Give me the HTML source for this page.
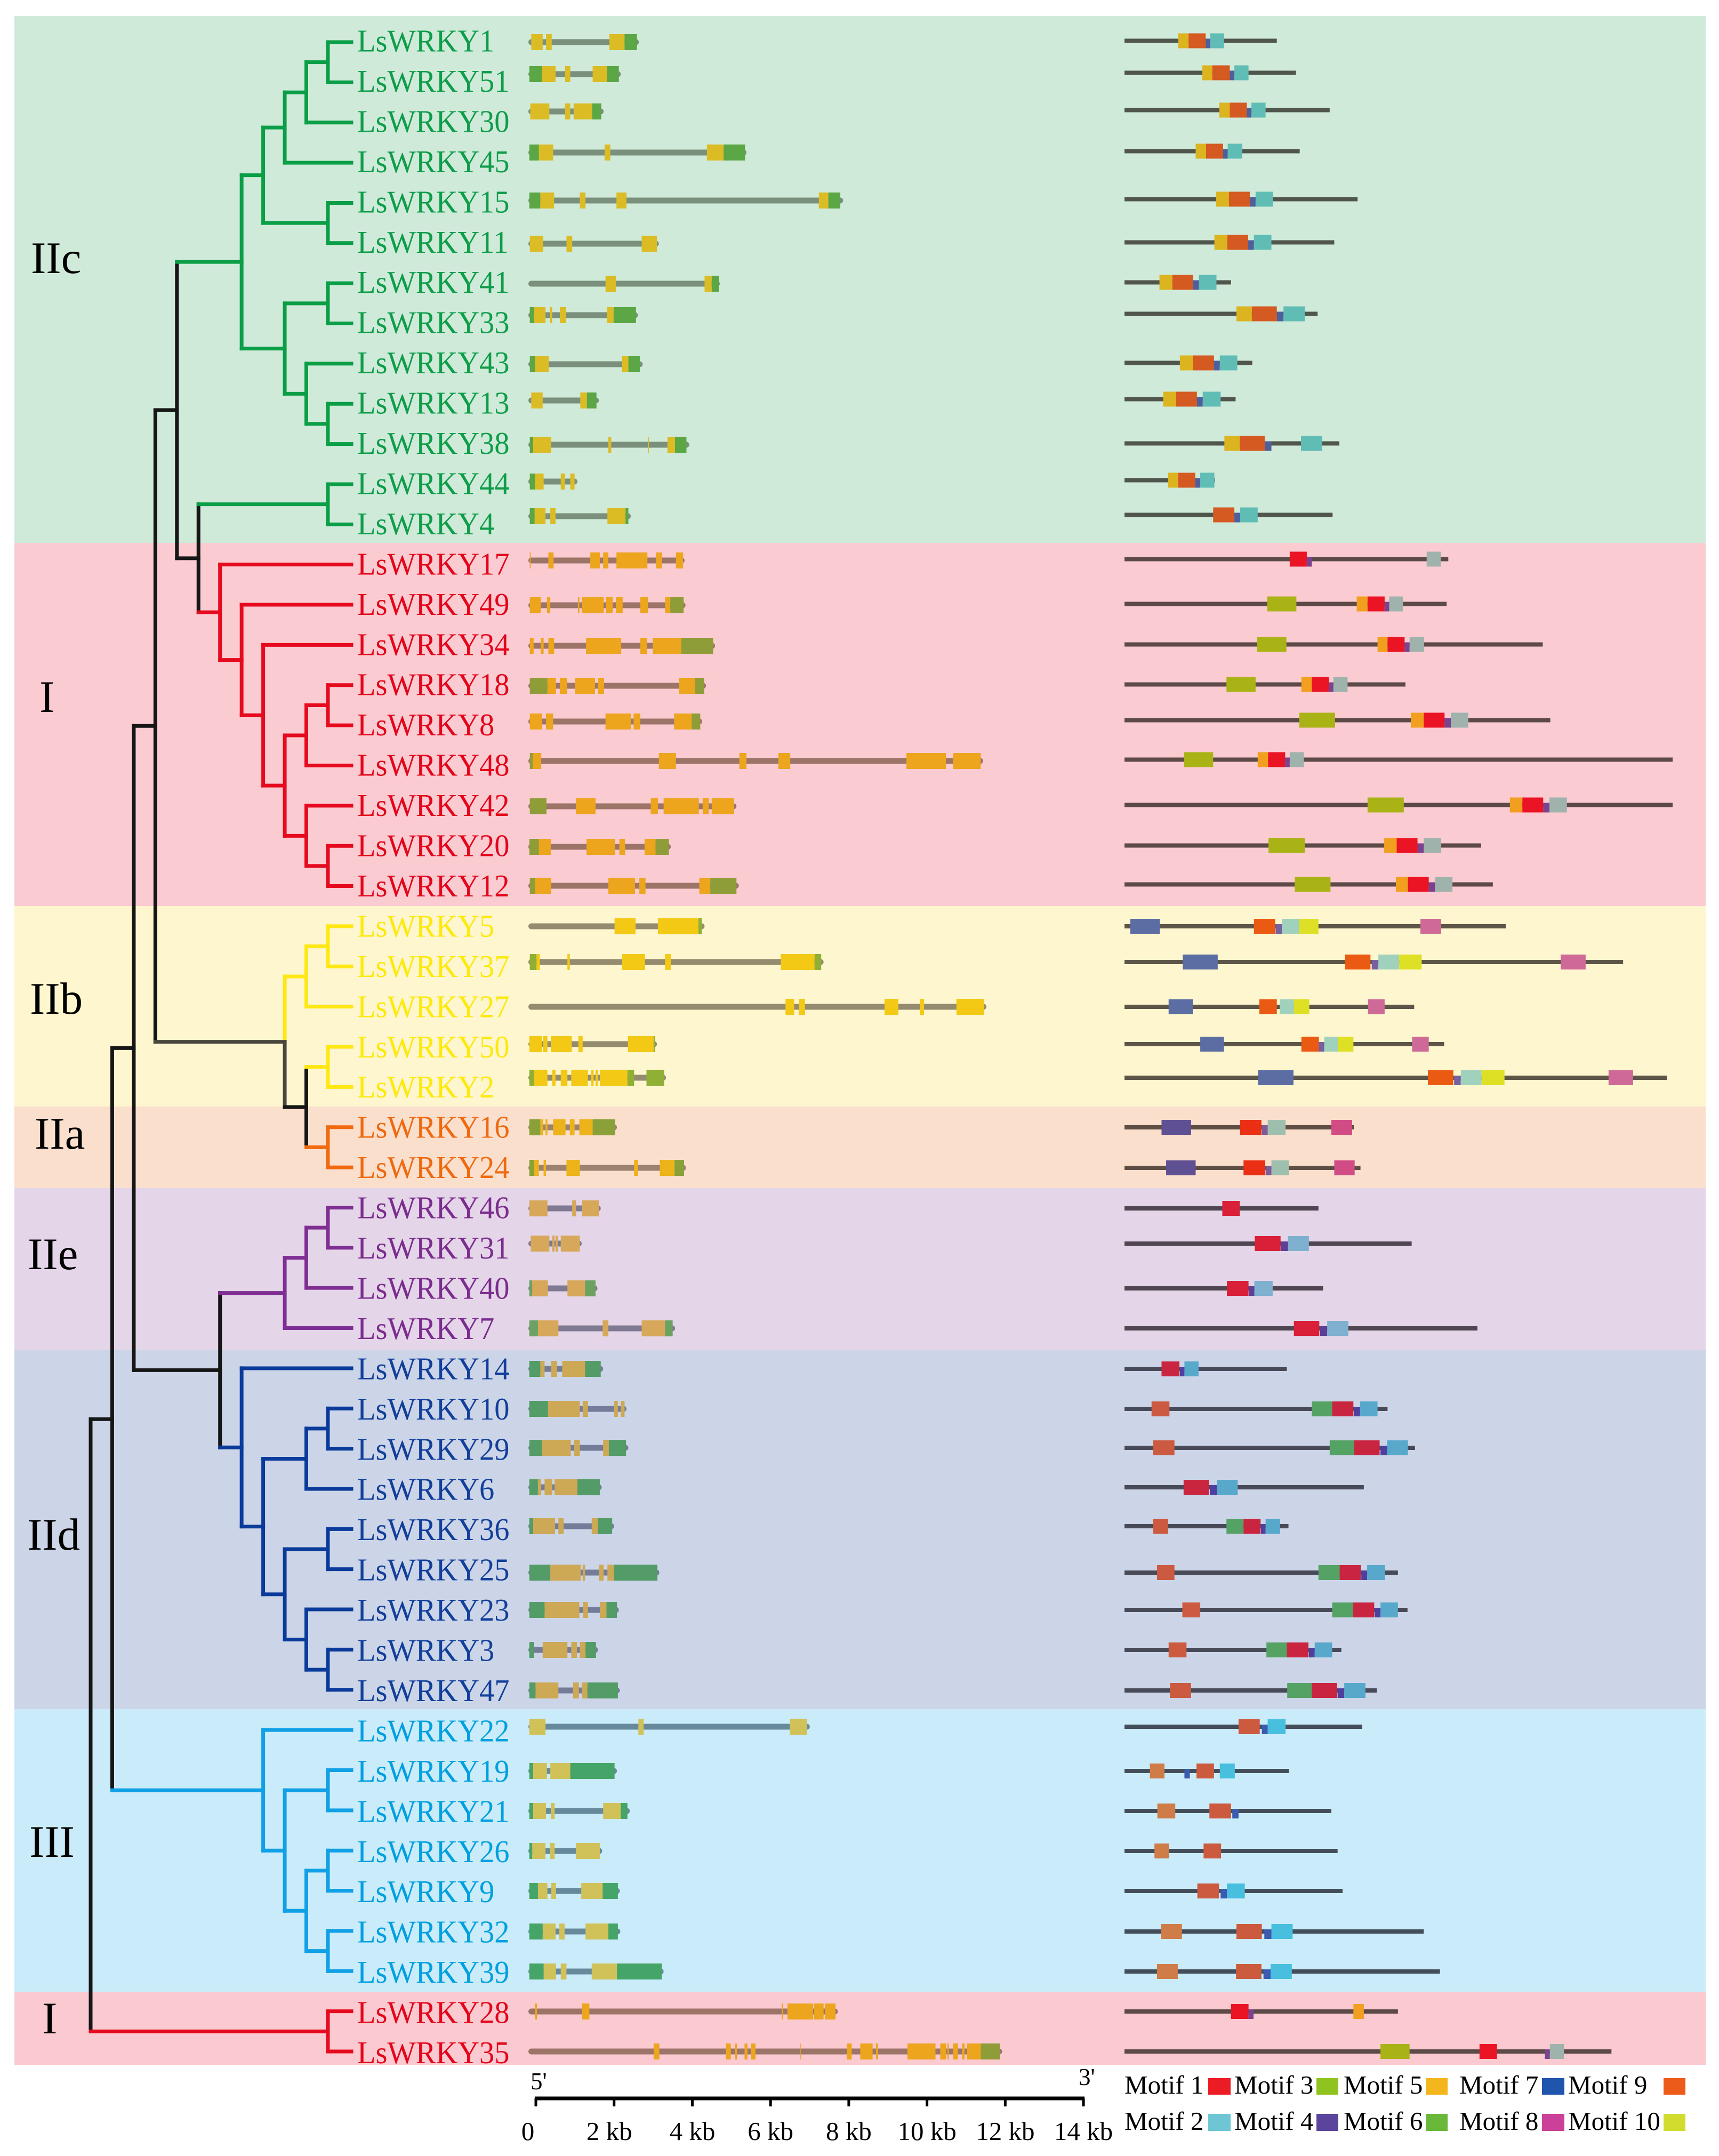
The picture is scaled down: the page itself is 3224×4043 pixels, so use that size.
<!DOCTYPE html>
<html lang="en">
<head>
<meta charset="utf-8">
<title>LsWRKY phylogeny, gene structure and motifs</title>
<style>
html,body{margin:0;padding:0;background:#fff;}
svg{display:block;}
text{font-family:"Liberation Serif","Noto Serif CJK SC",serif;}
</style>
</head>
<body>
<svg id="chart" xmlns="http://www.w3.org/2000/svg" width="3224" height="4043" viewBox="0 0 3224 4043">
  <g id="bands">
    <rect x="27" y="30" width="3172" height="988" fill="#cfead9"/>
    <rect x="27" y="1018" width="3172" height="681" fill="#fbcbd2"/>
    <rect x="27" y="1699" width="3172" height="376" fill="#fdf6ce"/>
    <rect x="27" y="2075" width="3172" height="153" fill="#fbdfcd"/>
    <rect x="27" y="2228" width="3172" height="304" fill="#e4d5e8"/>
    <rect x="27" y="2532" width="3172" height="673" fill="#ccd5e8"/>
    <rect x="27" y="3205" width="3172" height="530" fill="#caebf9"/>
    <rect x="27" y="3735" width="3172" height="137" fill="#fbc9d0"/>
  </g>
  <g id="group-labels" font-size="85" fill="#000">
    <text x="58" y="512">IIc</text>
    <text x="74" y="1335">I</text>
    <text x="56" y="1901">IIb</text>
    <text x="65" y="2154">IIa</text>
    <text x="52" y="2380">IIe</text>
    <text x="51" y="2906">IId</text>
    <text x="55" y="3482">III</text>
    <text x="79" y="3813">I</text>
  </g>
  <g id="tree"></g>
  <g id="labels"></g>
  <g id="genes"></g>
  <g id="motifs"></g>
  <g id="ruler">
    <text x="995" y="3918" font-size="45">5'</text>
    <text x="2023" y="3910" font-size="45">3'</text>
  </g>
  <g id="legend" font-size="49" fill="#000">
    <text x="2109" y="3926">Motif 1</text>
    <rect x="2266" y="3897" width="42" height="31" fill="#ec1c24"/>
    <text x="2315" y="3926">Motif 3</text>
    <rect x="2469" y="3897" width="41" height="31" fill="#8fc31f"/>
    <text x="2520" y="3926">Motif 5</text>
    <rect x="2674" y="3897" width="41" height="31" fill="#f3b61c"/>
    <text x="2737" y="3926">Motif 7</text>
    <rect x="2892" y="3897" width="42" height="31" fill="#1f55ad"/>
    <text x="2941" y="3926">Motif 9</text>
    <rect x="3120" y="3897" width="41" height="31" fill="#ec5b1a"/>
    <text x="2109" y="3994">Motif 2</text>
    <rect x="2266" y="3964" width="42" height="32" fill="#6ec6d5"/>
    <text x="2315" y="3994">Motif 4</text>
    <rect x="2469" y="3964" width="41" height="32" fill="#5b459c"/>
    <text x="2520" y="3994">Motif 6</text>
    <rect x="2674" y="3964" width="41" height="32" fill="#6ab83a"/>
    <text x="2737" y="3994">Motif 8</text>
    <rect x="2892" y="3964" width="42" height="32" fill="#cb4199"/>
    <text x="2941" y="3994">Motif 10</text>
    <rect x="3120" y="3964" width="41" height="32" fill="#d1dc2e"/>
  </g>
</svg>
<script>
// ---------- categories ----------
const geneNames = [1,51,30,45,15,11,41,33,43,13,38,44,4, 17,49,34,18,8,48,42,20,12, 5,37,27,50,2, 16,24, 46,31,40,7, 14,10,29,6,36,25,23,3,47, 22,19,21,26,9,32,39, 28,35].map(n => 'LsWRKY' + n);
const groupCounts = [13,9,5,2,4,9,7,2];

// ---------- gene structure values (length units: 1 unit = 12.2 bp) ----------
const geneEnd = [232,194,158,458,661,274,402,230,240,148,338,103,215,
  328,330,392,373,365,955,437,299,442,
  370,620,962,270,289,
  186,331,
  152,112,145,308,
  157,206,210,154,180,275,190,146,192,
  591,186,213,155,192,193,284,
  650,995];
const geneCds = [
 [[6,30],[37,49],[170,202]],
 [[28,57],[77,88],[135,165]],
 [[4,44],[77,88],[95,134]],
 [[22,52],[160,172],[375,410]],
 [[25,54],[108,120],[185,206],[610,630]],
 [[3,31],[80,92],[238,270]],
 [[162,184],[370,385]],
 [[12,36],[45,50],[66,79],[165,179]],
 [[14,43],[196,210]],
 [[6,30],[109,123]],
 [[10,48],[168,174],[251,253],[292,308]],
 [[14,32],[68,77],[88,97]],
 [[13,36],[46,57],[166,204]],
 [[3,5],[42,53],[130,150],[157,168],[185,250],[268,281],[310,325]],
 [[3,26],[39,46],[104,107],[112,158],[163,177],[184,198],[235,251],[287,298]],
 [[3,11],[26,32],[42,54],[121,195],[235,249],[261,321]],
 [[40,58],[66,81],[98,140],[146,159],[316,350]],
 [[3,29],[37,52],[162,215],[221,235],[306,343]],
 [[9,27],[274,310],[443,458],[525,550],[794,877],[892,950]],
 [[100,141],[257,272],[284,358],[366,379],[385,432]],
 [[22,47],[122,182],[191,203],[244,267]],
 [[14,48],[168,224],[233,246],[359,382]],
 [[181,225],[272,357]],
 [[17,24],[82,87],[197,245],[287,299],[530,601]],
 [[540,558],[568,581],[748,777],[822,831],[899,957]],
 [[2,28],[31,40],[47,91],[105,114],[209,263]],
 [[12,40],[50,57],[68,82],[90,125],[132,137],[141,146],[150,208]],
 [[25,31],[36,40],[52,78],[87,97],[107,135]],
 [[12,22],[32,37],[80,108],[222,230],[276,307]],
 [[2,40],[92,100],[113,148]],
 [[5,44],[50,55],[57,62],[68,108]],
 [[8,41],[82,119]],
 [[20,63],[156,168],[238,287]],
 [[25,34],[48,60],[71,119]],
 [[41,108],[114,125],[180,188],[194,202]],
 [[28,89],[96,108],[157,169]],
 [[20,27],[34,50],[55,103]],
 [[10,56],[63,74],[133,146]],
 [[46,110],[114,119],[148,158],[166,180]],
 [[34,107],[115,125],[150,164]],
 [[30,82],[90,102],[108,120]],
 [[15,63],[94,106],[112,124]],
 [[2,36],[231,242],[549,585]],
 [[10,39],[46,88]],
 [[10,37],[47,55],[157,194]],
 [[8,36],[45,55],[100,150]],
 [[20,40],[48,58],[111,156]],
 [[30,57],[65,76],[120,168]],
 [[32,58],[68,80],[133,186]],
 [[14,18],[113,128],[532,535],[544,598],[600,620],[623,645]],
 [[263,275],[415,425],[434,438],[454,460],[468,477],[571,572],[669,679],[697,723],[730,734],[796,855],[865,877],[880,883],[892,902],[911,916],[921,950]]
];
const geneUtr = [
 [[202,228]],
 [[2,28],[165,190]],
 [[134,153]],
 [[2,22],[410,455]],
 [[2,25],[630,655]],
 [],
 [[385,400]],
 [[3,12],[179,226]],
 [[3,14],[210,234]],
 [[123,143]],
 [[3,10],[308,332]],
 [[3,14]],
 [[3,13],[204,210]],
 [],
 [[298,326]],
 [[321,388]],
 [[3,40],[350,369]],
 [[343,361]],
 [[3,9]],
 [[3,38]],
 [[2,22],[267,295]],
 [[3,14],[382,437]],
 [[357,364]],
 [[3,17],[601,615]],
 [],
 [[263,266]],
 [[2,12],[208,222],[248,285]],
 [[2,25],[135,182]],
 [[2,12],[307,327]],
 [],
 [],
 [[2,8],[119,141]],
 [[2,20],[287,303]],
 [[2,25],[119,152]],
 [[2,41]],
 [[2,28],[169,205]],
 [[2,20],[103,150]],
 [[2,10],[146,176]],
 [[2,46],[180,271]],
 [[2,34],[164,186]],
 [[2,12],[120,142]],
 [[2,15],[124,188]],
 [],
 [[2,10],[88,181]],
 [[2,10],[194,208]],
 [[2,8]],
 [[2,20],[156,188]],
 [[2,30],[168,188]],
 [[2,32],[186,280]],
 [],
 [[950,990]]
];

// ---------- motif values (protein length units; each block = [motif id, start, end]) ----------
const proteinEnd = [366,412,493,421,560,504,256,464,307,267,516,217,500,
  778,774,1005,675,1023,1317,1317,857,885,
  916,1198,696,768,1303,
  551,567,
  466,690,477,848,
  390,632,698,575,394,657,680,521,606,
  571,395,497,512,524,719,758,
  657,1170];
const motifBlocks = [
 [[5,129,154],[9,154,195],[4,195,206],[2,206,239]],
 [[5,187,211],[9,211,253],[4,253,264],[2,264,298]],
 [[5,228,253],[9,253,294],[4,294,305],[2,305,339]],
 [[5,171,196],[9,196,237],[4,237,248],[2,248,283]],
 [[5,220,251],[9,251,301],[4,301,315],[2,315,357]],
 [[5,216,247],[9,247,297],[4,297,311],[2,311,353]],
 [[5,84,115],[9,115,165],[4,165,179],[2,179,221]],
 [[5,269,306],[9,306,366],[4,366,382],[2,382,433]],
 [[5,133,164],[9,164,215],[4,215,229],[2,229,271]],
 [[5,93,124],[9,124,174],[4,174,188],[2,188,231]],
 [[5,240,277],[9,277,337],[4,337,353],[2,424,475]],
 [[5,105,129],[9,129,170],[4,170,182],[2,182,216]],
 [[9,213,264],[4,264,278],[2,278,320]],
 [[1,397,438],[4,438,450],[2,726,760]],
 [[3,343,413],[5,558,584],[1,584,625],[4,625,636],[2,636,669]],
 [[3,319,389],[5,608,632],[1,632,673],[4,673,685],[2,685,720]],
 [[3,245,315],[5,425,450],[1,450,491],[4,491,502],[2,502,536]],
 [[3,420,506],[5,688,719],[1,719,769],[4,769,784],[2,784,826]],
 [[3,143,213],[5,320,345],[1,345,386],[4,386,397],[2,397,431]],
 [[3,584,671],[5,926,956],[1,956,1006],[4,1006,1021],[2,1021,1063]],
 [[3,346,433],[5,624,654],[1,654,704],[4,704,719],[2,719,761]],
 [[3,409,495],[5,652,681],[1,681,731],[4,731,746],[2,746,788]],
 [[7,14,85],[9,311,362],[4,363,378],[2,378,420],[10,420,466],[8,711,761]],
 [[7,140,224],[9,530,591],[4,594,610],[2,610,660],[10,660,714],[8,1048,1108]],
 [[7,106,164],[9,324,366],[2,373,407],[10,407,444],[8,585,625]],
 [[7,182,239],[9,425,467],[4,467,480],[2,480,513],[10,513,550],[8,691,731]],
 [[7,321,406],[9,729,790],[4,792,808],[2,808,858],[10,858,913],[8,1163,1222]],
 [[7,89,160],[1,278,329],[4,330,344],[2,344,387],[8,497,547]],
 [[7,100,171],[1,286,338],[4,339,353],[2,353,395],[8,504,553]],
 [[1,235,277]],
 [[1,313,375],[4,376,393],[2,393,443]],
 [[1,246,298],[4,299,312],[2,312,356]],
 [[1,407,468],[4,470,487],[2,487,538]],
 [[1,89,132],[4,133,144],[2,144,178]],
 [[9,65,108],[6,450,499],[1,499,550],[4,551,566],[2,566,608]],
 [[9,69,120],[6,493,552],[1,552,613],[4,615,631],[2,631,681]],
 [[1,142,203],[4,205,222],[2,222,272]],
 [[9,69,105],[6,245,286],[1,286,327],[4,328,339],[2,339,374]],
 [[9,78,120],[6,466,517],[1,517,568],[4,569,583],[2,583,626]],
 [[9,139,182],[6,499,549],[1,549,600],[4,601,615],[2,615,657]],
 [[9,106,149],[6,341,390],[1,390,442],[4,443,457],[2,457,499]],
 [[9,109,160],[6,391,450],[1,450,511],[4,512,528],[2,528,579]],
 [[9,274,325],[7,330,344],[2,344,387]],
 [[5,61,96],[7,144,157],[9,173,215],[2,229,265]],
 [[5,79,122],[9,204,256],[7,259,274]],
 [[5,72,107],[9,190,232]],
 [[9,175,227],[7,231,246],[2,246,289]],
 [[5,88,138],[9,269,330],[7,336,353],[2,353,404]],
 [[5,78,128],[9,268,329],[7,334,351],[2,351,402]],
 [[1,256,298],[4,298,310],[5,550,575]],
 [[3,615,685],[1,853,895],[4,1010,1022],[2,1022,1056]]
];

// ---------- ruler values ----------
const rulerKb = [0,2,4,6,8,10,12,14];
const rulerLabels = ['0','2 kb','4 kb','6 kb','8 kb','10 kb','12 kb','14 kb'];

// ---------- tree topology: N(depth level, colour key, children...), numbers are gene row indices ----------
function N(level, c, ...kids){ return {level, c, kids}; }
const treeRoot =
N(0,'k',
  N(1,'k',
    N(2,'k',
      N(3,'k',
        N(4,'k',
          N(7,'g',
            N(8,'g',
              N(9,'g',N(10,'g',N(11,'g',0,1),2),3),
              N(11,'g',4,5)),
            N(9,'g',
              N(11,'g',6,7),
              N(10,'g',8,N(11,'g',9,10)))),
          N(5,'k',
            N(11,'g',11,12),
            N(6,'r',13,N(7,'r',14,N(8,'r',15,N(9,'r',
              N(10,'r',N(11,'r',16,17),18),
              N(10,'r',19,N(11,'r',20,21)))))))),
        N(9,'n',
          N(10,'y',N(11,'y',22,23),24),
          N(10,'k',N(11,'y',25,26),N(11,'o',27,28)))),
      N(6,'k',
        N(9,'p',N(10,'p',N(11,'p',29,30),31),32),
        N(7,'b',33,N(8,'b',
          N(10,'b',N(11,'b',34,35),36),
          N(9,'b',N(11,'b',37,38),N(10,'b',39,N(11,'b',40,41))))))),
    N(8,'c',42,N(9,'c',N(11,'c',43,44),N(10,'c',N(11,'c',45,46),N(11,'c',47,48))))),
  N(11,'r',49,50));

// ---------- layout and style (not data) ----------
const trackRowY = [79,139,209,286,376,457,532,591,683,751,834,903,968,1051,1135,1211,1286,1353,1427,1512,1588,1661,1737,1804,1888,1958,2021,2114,2190,2266,2332,2416,2491,2567,2642,2715,2789,2862,2949,3019,3094,3170,3238,3321,3396,3471,3546,3622,3697,3772,3847];
const groupTextColor = ['#0f9d4a','#e3051b','#fde90c','#ee6a10','#7b2d8e','#123f9a','#00a0e0','#e3051b'];
const treeColor = {k:'#161616',n:'#4a463c',g:'#0a9e46',r:'#e60a1e',y:'#ffe714',o:'#f26a10',p:'#7f2f93',b:'#0a3a9a',c:'#10a0e6'};
const intronColor = ['#7a8f7c','#9c7468','#958b6e','#9c8371','#7f7a92','#757c9a','#668a9c','#9c7468'];
const cdsColor = ['#dcbc25','#eca51c','#f3c916','#ecb31a','#d7a85a','#cda855','#d0c158','#eca51c'];
const utrColor = ['#5ba645','#8f9d38','#8fb034','#8aa13a','#6ba261','#539c68','#45a568','#8f9d38'];
const backboneColor = ['#50564c','#5d4a47','#5d5548','#5f4e44','#4f4652','#484a58','#434e5a','#5d4a47'];
const motifColor = [
 {5:'#dcb420',9:'#d55a22',4:'#4f5f9b',2:'#60bdb5'},
 {3:'#aab316',5:'#f29f1f',1:'#ea1424',4:'#7b4290',2:'#9fb3ac'},
 {7:'#5b6da3',9:'#ea5a12',4:'#77609f',2:'#9fd1bd',10:'#dee025',8:'#cf6a98'},
 {7:'#5f4f93',1:'#ea2f14',4:'#7e5a98',2:'#9fbfae',8:'#d14c84'},
 {1:'#d92038',4:'#5f3f96',2:'#7fb0cf'},
 {9:'#cb5a40',6:'#55a265',1:'#ca2540',4:'#4f3f9f',2:'#58a8cc'},
 {5:'#cf7c48',9:'#cc5a3f',7:'#3a5bb0',2:'#48bfdf',4:'#3a5bb0'},
 {3:'#aab316',5:'#f29f1f',1:'#ea1424',4:'#7b4290',2:'#9fb3ac'}
];

const NS = 'http://www.w3.org/2000/svg';
function mk(tag, attrs, parent){
  const el = document.createElementNS(NS, tag);
  for (const k in attrs) el.setAttribute(k, attrs[k]);
  parent.appendChild(el);
  return el;
}

// ---------- axis functions ----------
const tipX = 659;
const levelX = l => 170 + 40.45 * l;
const tipY = i => 79 + 75.36 * i;
const geneX = u => 991 + u * 0.893;
const motifX = m => 2109 + m * 0.7806;
const kbX = kb => 1005 + kb * 73.36;
const groupOf = i => { let s = 0; for (let g = 0; g < groupCounts.length; g++){ s += groupCounts[g]; if (i < s) return g; } return 0; };

// ---------- tree ----------
const treeG = document.getElementById('tree');
function seg(x1,y1,x2,y2,color,name){
  const l = mk('line',{x1,y1,x2,y2,stroke:color,'stroke-width':7,'stroke-linecap':'square'},treeG);
  
  
}
function layout(n){
  if (typeof n === 'number') return {x:tipX, y:tipY(n), color:groupTextColorTree(n)};
  const x = levelX(n.level);
  const kids = n.kids.map(layout);
  const y = (kids[0].y + kids[kids.length-1].y) / 2;
  const color = treeColor[n.c];
  if (n.c === 'n') {
    seg(x,kids[0].y,x,y,treeColor.y,'tree-branch-vertical');
    seg(x,y,x,kids[kids.length-1].y,color,'tree-branch-vertical');
  } else {
    seg(x,kids[0].y,x,kids[kids.length-1].y,color,'tree-branch-vertical');
  }
  kids.forEach(k => seg(x,k.y,k.x,k.y,k.color,'tree-branch-horizontal'));
  return {x, y, color};
}
function groupTextColorTree(i){
  return [treeColor.g,treeColor.r,treeColor.y,treeColor.o,treeColor.p,treeColor.b,treeColor.c,treeColor.r][groupOf(i)];
}
layout(treeRoot);

// ---------- gene labels ----------
const labelG = document.getElementById('labels');
geneNames.forEach((name,i) => {
  const baseline = tipY(i) + 17.5 + i * 0.09;
  const t = mk('text',{transform:'translate(670,' + baseline + ') scale(1,1.05)',x:0,y:0,'font-size':56.5,fill:groupTextColor[groupOf(i)]},labelG);
  t.textContent = name;
  
  
});

// ---------- gene structures ----------
const genesG = document.getElementById('genes');
geneNames.forEach((name,i) => {
  const g = groupOf(i), y = trackRowY[i];
  const row = mk('g',{},genesG);
  
  
  const line = mk('rect',{x:geneX(0),y:y-5.5,width:geneX(geneEnd[i])-geneX(0),height:11,rx:5.5,fill:intronColor[g]},row);
  
  
  geneCds[i].forEach(e => {
    const r = mk('rect',{x:geneX(e[0]),y:y-15,width:geneX(e[1])-geneX(e[0]),height:30,fill:cdsColor[g]},row);
    
    
  });
  geneUtr[i].forEach(e => {
    const r = mk('rect',{x:geneX(e[0]),y:y-15,width:geneX(e[1])-geneX(e[0]),height:30,fill:utrColor[g]},row);
    
    
  });
});

// ---------- motif tracks ----------
const motifsG = document.getElementById('motifs');
geneNames.forEach((name,i) => {
  const g = groupOf(i), y = trackRowY[i] + (i < 22 ? -2.5 : 0);
  const row = mk('g',{},motifsG);
  
  
  const line = mk('rect',{x:motifX(0),y:y-4,width:motifX(proteinEnd[i])-motifX(0),height:8,fill:backboneColor[g]},row);
  
  
  motifBlocks[i].forEach(b => {
    const small = (b[0] === 4) || (b[0] === 7 && g === 6);
    const h = small ? 18 : 28;
    const r = mk('rect',{x:motifX(b[1]),y:y+14-h,width:motifX(b[2])-motifX(b[1]),height:h,fill:motifColor[g][b[0]]},row);
    
    
  });
});

// ---------- ruler ----------
const rulerG = document.getElementById('ruler');
const rulerLine = mk('line',{x1:kbX(0)-2,y1:3935,x2:kbX(14)+2,y2:3935,stroke:'#000','stroke-width':7},rulerG);


rulerKb.forEach((k,i) => {
  const tick = mk('line',{x1:kbX(k),y1:3935,x2:kbX(k),y2:3950,stroke:'#000','stroke-width':5},rulerG);
  
  
  const dx = k === 0 ? -15 : (k === 2 ? -9 : 0);
  const t = mk('text',{x:kbX(k)+dx,y:4013,'font-size':49,'text-anchor':'middle',fill:'#000'},rulerG);
  t.textContent = rulerLabels[i];
  
  
});
</script>
</body>
</html>
